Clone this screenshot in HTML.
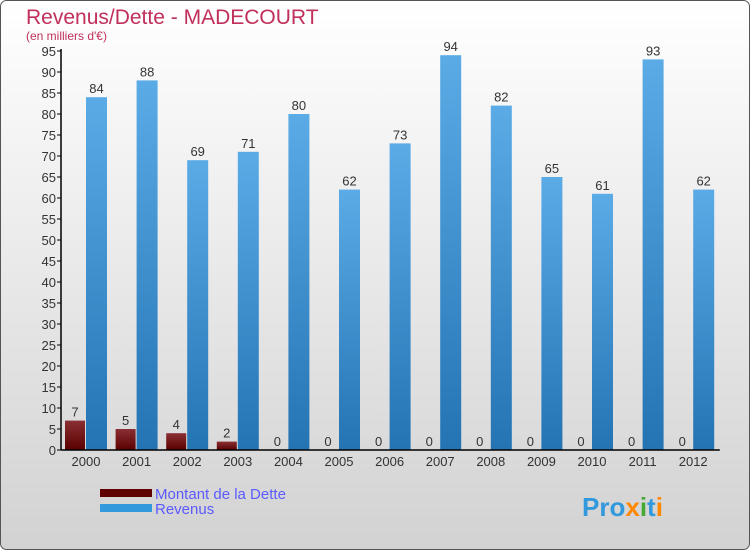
<!DOCTYPE html>
<html><head><meta charset="utf-8"><style>
body{margin:0}
#wrap{position:relative;width:750px;height:550px;overflow:hidden;font-family:"Liberation Sans",sans-serif}
</style></head><body>
<div id="wrap">
<svg id="svg" width="750" height="550" xmlns="http://www.w3.org/2000/svg">
<defs>
<linearGradient id="bg" x1="0" y1="0" x2="0" y2="1"><stop offset="0" stop-color="#ffffff"/><stop offset="1" stop-color="#d2d2d2"/></linearGradient>
<linearGradient id="rev" x1="0" y1="0" x2="0" y2="1"><stop offset="0" stop-color="#5aabe6"/><stop offset="1" stop-color="#2474b4"/></linearGradient>
<linearGradient id="debt" x1="0" y1="0" x2="0" y2="1"><stop offset="0" stop-color="#8a3034"/><stop offset="1" stop-color="#5a0000"/></linearGradient>
</defs>
<rect x="0.5" y="0.5" width="749" height="549" rx="6" fill="url(#bg)" stroke="#555"/>
<text x="26" y="24" font-size="21" fill="#c0305a">Revenus/Dette - MADECOURT</text>
<text x="26" y="40" font-size="12" fill="#c0305a">(en milliers d'€)</text>
<g id="plot"></g>
<rect x="100" y="489" width="52" height="8" fill="#600000"/>
<text x="155" y="499" font-size="15" fill="#5a5aff">Montant de la Dette</text>
<rect x="100" y="504" width="52" height="8" fill="#3399dd"/>
<text x="155" y="514" font-size="15" fill="#5a5aff">Revenus</text>
<text x="582" y="516" font-size="26" font-weight="bold" fill="#3399dd">Pro<tspan fill="#ff8800">x</tspan><tspan fill="#44aa33">i</tspan>t<tspan fill="#ff8800">i</tspan></text>
</svg>
</div>
<script>
const years=["2000","2001","2002","2003","2004","2005","2006","2007","2008","2009","2010","2011","2012"];
const debt=[7,5,4,2,0,0,0,0,0,0,0,0,0];
const revenus=[84,88,69,71,80,62,73,94,82,65,61,93,62];
const yTicks=[0,5,10,15,20,25,30,35,40,45,50,55,60,65,70,75,80,85,90,95];
const NS="http://www.w3.org/2000/svg";
const g=document.getElementById('plot');
const x0=61,y0=450,yTop=51,yMax=95,gw=50.6;
function y(v){return y0-(v/yMax)*(y0-yTop);}
function xg(i){return x0+i*gw;}
function mk(t,a){const e=document.createElementNS(NS,t);for(const k in a)e.setAttribute(k,a[k]);g.appendChild(e);return e;}
yTicks.forEach(v=>{
 const l=mk('line',{x1:x0-4,x2:x0,y1:y(v),y2:y(v),stroke:'#000'});
 
 
 const t=mk('text',{x:x0-5,y:y(v)+5,'font-size':13,fill:'#333','text-anchor':'end'});
 t.textContent=v;
 
 
});
years.forEach((yr,i)=>{
 const bx=xg(i)+4;
 const hd=y0-y(debt[i]);
 const d=mk('rect',{x:bx,y:y(debt[i]),width:20,height:Math.max(hd,0.5),fill:'url(#debt)'});
 
 
 const dl=mk('text',{x:bx+10,y:y(debt[i])-4,'font-size':13,fill:'#333','text-anchor':'middle'});
 dl.textContent=debt[i];
 
 
 const rx=bx+21;
 const r=mk('rect',{x:rx,y:y(revenus[i]),width:21,height:y0-y(revenus[i]),fill:'url(#rev)'});
 
 
 const rl=mk('text',{x:rx+10.5,y:y(revenus[i])-4,'font-size':13,fill:'#333','text-anchor':'middle'});
 rl.textContent=revenus[i];
 
 
 const xt=mk('text',{x:bx+21,y:y0+16,'font-size':13,fill:'#333','text-anchor':'middle'});
 xt.textContent=yr;
 
 
});
const ya=mk('line',{x1:x0,x2:x0,y1:yTop-2,y2:y0,stroke:'#000','stroke-width':1.5});


const xa=mk('line',{x1:x0,x2:xg(13)+1,y1:y0,y2:y0,stroke:'#000','stroke-width':1.5});


</script>
</body></html>
